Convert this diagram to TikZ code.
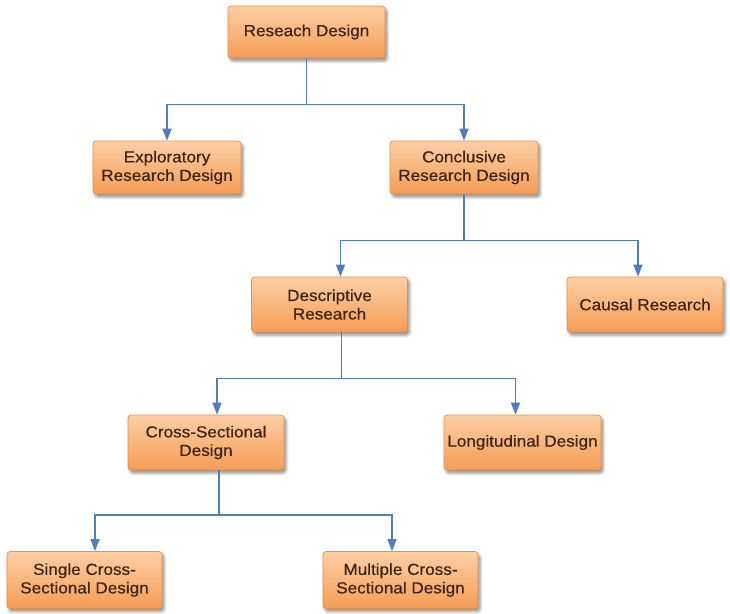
\documentclass[tikz,border=0pt]{standalone}
\usepackage{fontspec}
\setmainfont{Liberation Sans}[FakeStretch=1.07,FakeBold=0.35]
\usetikzlibrary{arrows.meta,calc,shadows.blur}
\definecolor{boxtop}{HTML}{FDCFA4}
\definecolor{boxmid}{HTML}{F9A865}
\definecolor{boxbot}{HTML}{F59C55}
\definecolor{boxedge}{HTML}{EE8E40}
\definecolor{txt}{HTML}{3A2416}
\definecolor{linec}{HTML}{4C7EC0}
\tikzset{
  box/.style={rectangle, rounded corners=3pt, draw=boxedge, line width=0.7pt,
    top color=boxtop, middle color=boxmid, bottom color=boxbot,
    text=txt, font=\fontsize{16}{18.5}\selectfont, align=center, inner sep=0pt,
    blur shadow={shadow xshift=2pt, shadow yshift=-3pt, shadow blur radius=3pt, shadow opacity=45}},
  conn/.style={draw=linec, line width=1.4pt, -{Triangle[width=9pt,length=12pt]}}
}
\begin{document}
\begin{tikzpicture}[x=1pt,y=-1pt]
\useasboundingbox (0,0) rectangle (730,613);
\node[box, minimum width=157pt, minimum height=52pt] (root) at (306.5,32) {Reseach Design};
\node[box, minimum width=148pt, minimum height=53pt] (expl) at (167,167.5) {Exploratory\\Research Design};
\node[box, minimum width=148pt, minimum height=53pt] (concl) at (464,167.5) {Conclusive\\Research Design};
\node[box, minimum width=156pt, minimum height=55pt] (desc) at (329.5,304.5) {Descriptive\\Research};
\node[box, minimum width=156pt, minimum height=55pt] (causal) at (645,304.5) {Causal Research};
\node[box, minimum width=156pt, minimum height=55pt] (cross) at (206,442.5) {Cross-Sectional\\Design};
\node[box, minimum width=157pt, minimum height=55pt] (longi) at (522.5,442.5) {Longitudinal Design};
\node[box, minimum width=155pt, minimum height=57pt] (single) at (84.5,580) {Single Cross-\\Sectional Design};
\node[box, minimum width=155pt, minimum height=57pt] (multi) at (400.5,580) {Multiple Cross-\\Sectional Design};

\draw[conn] (root.south) -- ++(0,46) -| (expl.north);
\draw[conn] (root.south) -- ++(0,46) -| (concl.north);
\draw[conn] (concl.south) -- ++(0,46) -| ($(desc.north)+(11,0)$);
\draw[conn] (concl.south) -- ++(0,46) -| ($(causal.north)+(-7,0)$);
\draw[conn] ($(desc.south)+(12,0)$) -- ++(0,46) -| ($(cross.north)+(11,0)$);
\draw[conn] ($(desc.south)+(12,0)$) -- ++(0,46) -| ($(longi.north)+(-7,0)$);
\draw[conn] ($(cross.south)+(13,0)$) -- ++(0,44.5) -| ($(single.north)+(10.5,0)$);
\draw[conn] ($(cross.south)+(13,0)$) -- ++(0,44.5) -| ($(multi.north)+(-8.5,0)$);
\end{tikzpicture}
\end{document}
